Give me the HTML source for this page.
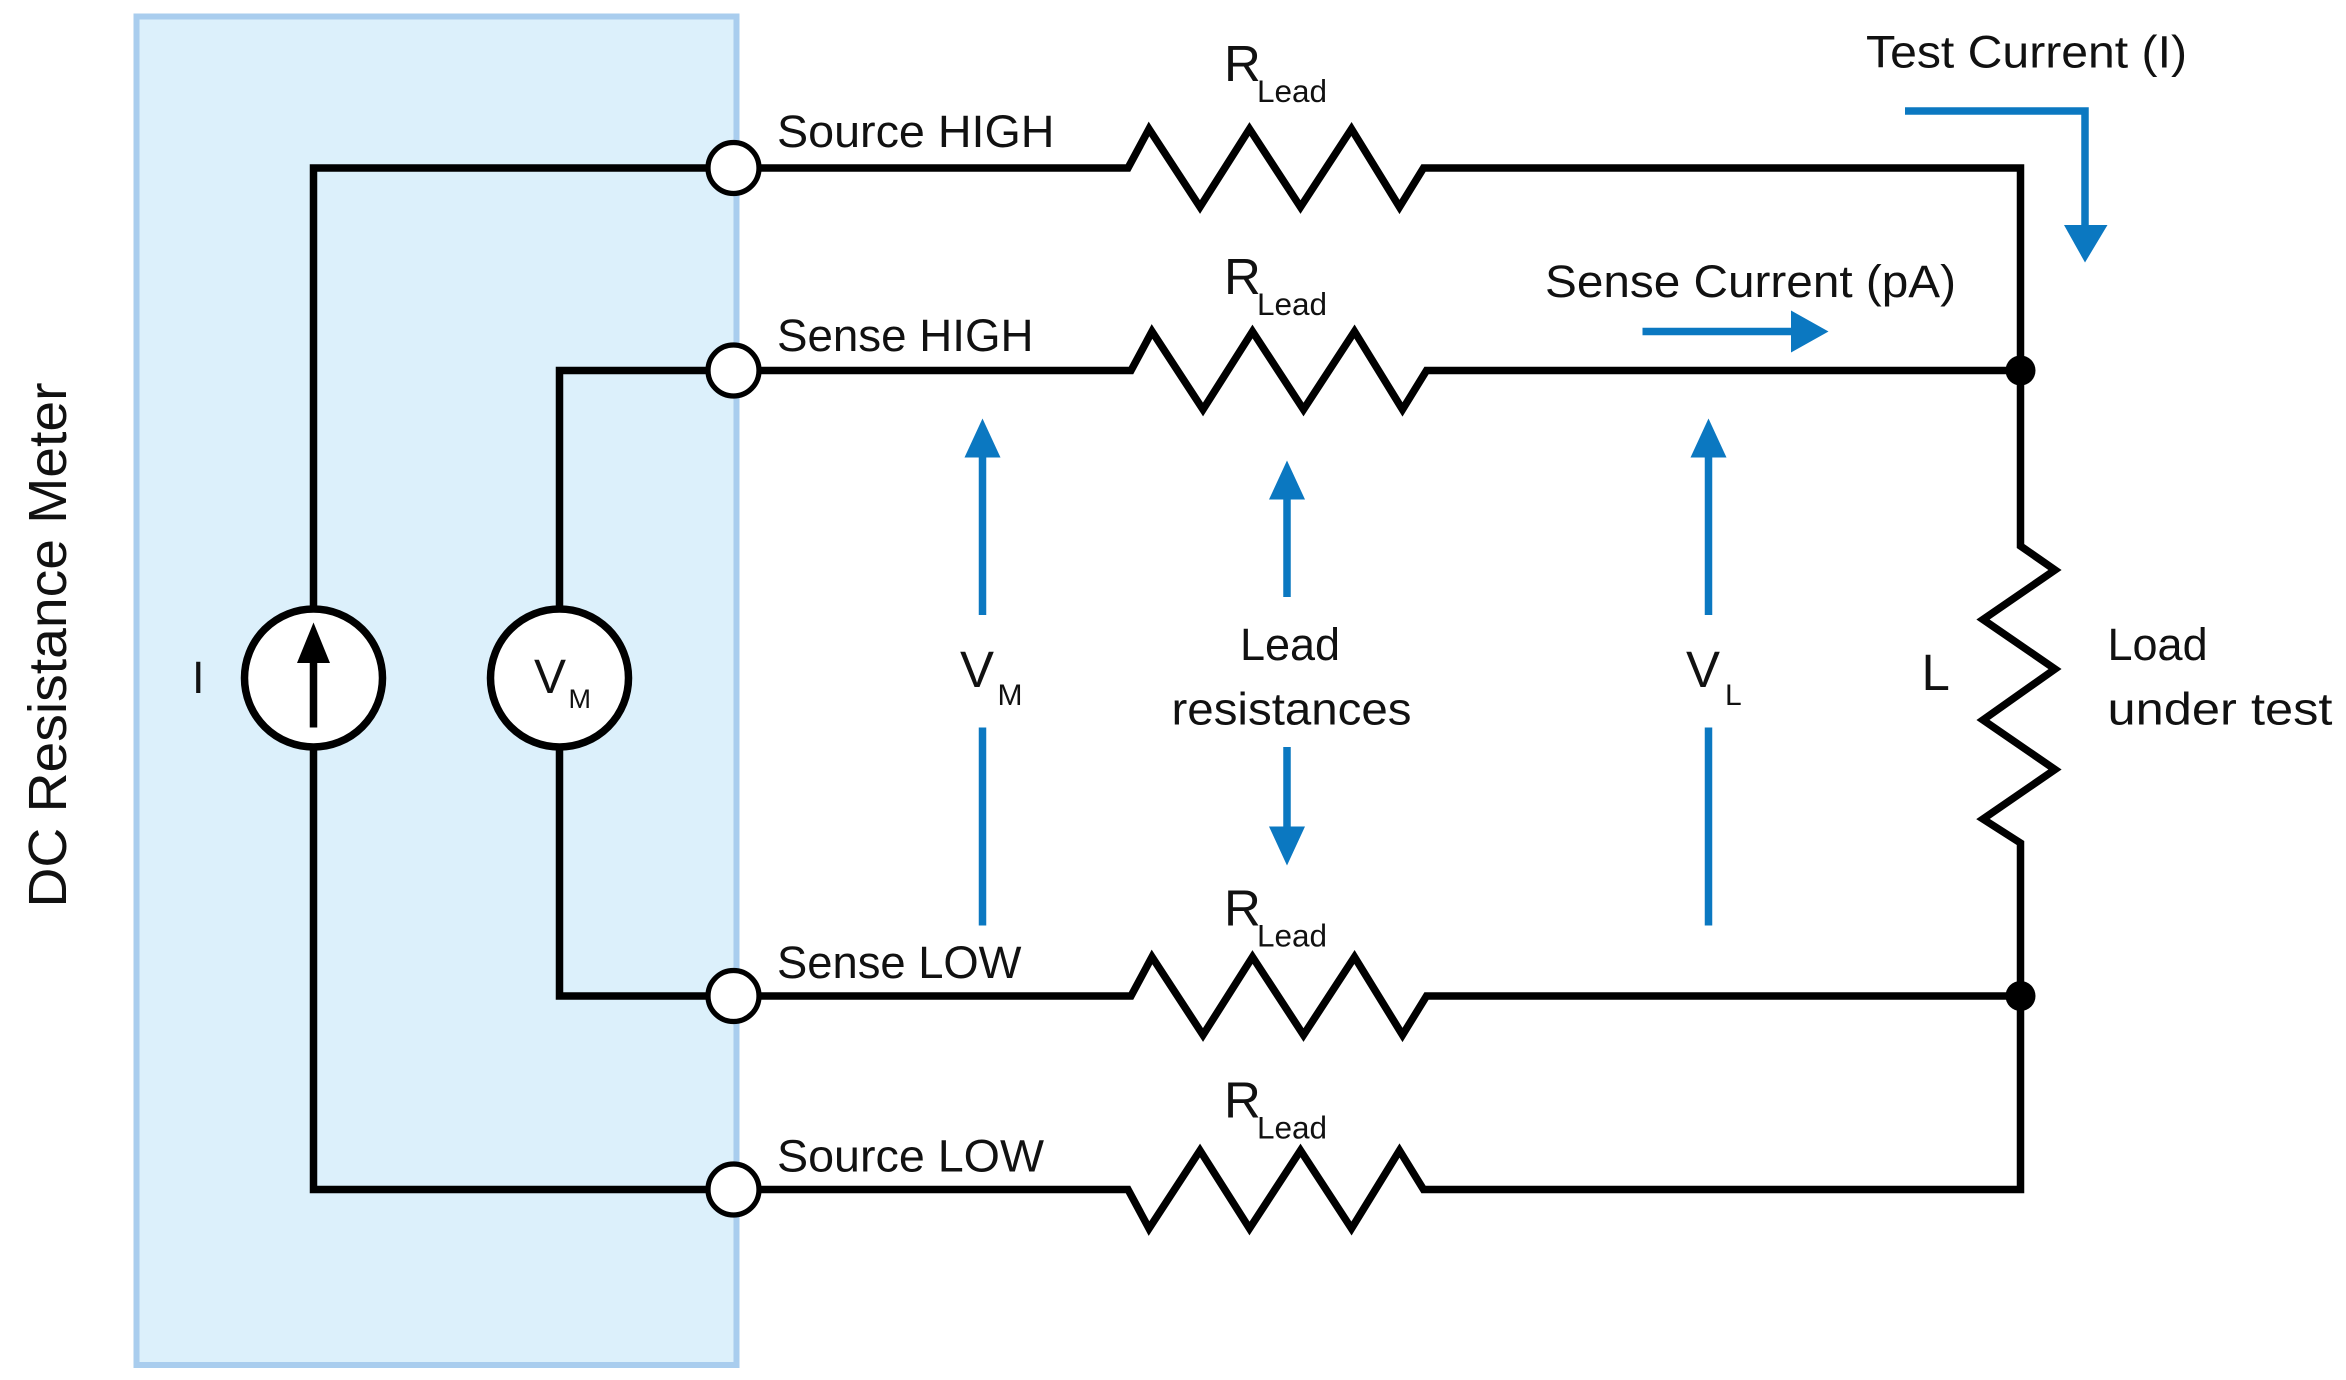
<!DOCTYPE html>
<html><head><style>
html,body{margin:0;padding:0;background:#fff;}
svg{display:block;}
text{font-family:"Liberation Sans",sans-serif;fill:#111;}
</style></head><body>
<svg width="2346" height="1380" viewBox="0 0 1564 920" xmlns="http://www.w3.org/2000/svg">
<rect x="91" y="11" width="400" height="899" fill="#dcf0fb" stroke="#a9cdee" stroke-width="4"/>
<g fill="none" stroke="#000" stroke-width="5" stroke-linejoin="miter">
<!-- left internal wires -->
<polyline points="472,112 209,112 209,406"/>
<polyline points="209,498 209,793 472,793"/>
<polyline points="472,247 373,247 373,406"/>
<polyline points="373,498 373,664 472,664"/>
<!-- right wires with resistors -->
<polyline points="506,112 752,112 766,86 800,138 833,86 867,138 901,86 933,138 949,112 1347,112 1347,364 1370,380 1322,413 1370,446 1322,480 1370,513 1322,546 1347,562 1347,793 949,793 933,767 901,819 867,767 833,819 800,767 766,819 752,793 506,793"/>
<polyline points="506,247 754,247 768,221 802,273 835,221 869,273 903,221 935,273 951,247 1347,247"/>
<polyline points="506,664 754,664 768,638 802,690 835,638 869,690 903,638 935,690 951,664 1347,664"/>
<circle cx="209" cy="452" r="46" fill="#fff"/>
<circle cx="373" cy="452" r="46" fill="#fff"/>
<line x1="209" y1="485" x2="209" y2="440"/>
</g>
<polygon points="209,415 198,442 220,442" fill="#000"/>
<g fill="#fff" stroke="#000" stroke-width="3.5">
<circle cx="489" cy="112" r="17"/>
<circle cx="489" cy="247" r="17"/>
<circle cx="489" cy="664" r="17"/>
<circle cx="489" cy="793" r="17"/>
</g>
<circle cx="1347" cy="247" r="10" fill="#000"/>
<circle cx="1347" cy="664" r="10" fill="#000"/>
<!-- blue arrows -->
<g stroke="#0b78c1" stroke-width="5" fill="none">
<polyline points="1270,74 1390,74 1390,152"/>
<line x1="1095" y1="221" x2="1196" y2="221"/>
<line x1="655" y1="410" x2="655" y2="302"/>
<line x1="655" y1="485" x2="655" y2="617"/>
<line x1="858" y1="398" x2="858" y2="330"/>
<line x1="858" y1="498" x2="858" y2="553"/>
<line x1="1139" y1="410" x2="1139" y2="302"/>
<line x1="1139" y1="485" x2="1139" y2="617"/>
</g>
<g fill="#0b78c1">
<polygon points="1376,150 1405,150 1390,175"/>
<polygon points="1194,207 1194,235 1219,221"/>
<polygon points="643,305 667,305 655,279"/>
<polygon points="846,333 870,333 858,307"/>
<polygon points="846,551 870,551 858,577"/>
<polygon points="1127,305 1151,305 1139,279"/>
</g>
<!-- labels -->
<g font-size="30">
<text x="518" y="98" textLength="185" lengthAdjust="spacingAndGlyphs">Source HIGH</text>
<text x="518" y="234" textLength="171" lengthAdjust="spacingAndGlyphs">Sense HIGH</text>
<text x="518" y="652" textLength="163" lengthAdjust="spacingAndGlyphs">Sense LOW</text>
<text x="518" y="781" textLength="178" lengthAdjust="spacingAndGlyphs">Source LOW</text>
<text x="1244" y="45" textLength="214" lengthAdjust="spacingAndGlyphs">Test Current (I)</text>
<text x="1030" y="198" textLength="274" lengthAdjust="spacingAndGlyphs">Sense Current (pA)</text>
<text x="860" y="440" text-anchor="middle">Lead</text>
<text x="861" y="483" text-anchor="middle" textLength="160" lengthAdjust="spacingAndGlyphs">resistances</text>
<text x="1405" y="440">Load</text>
<text x="1405" y="483" textLength="150" lengthAdjust="spacingAndGlyphs">under test</text>
<text x="128" y="462">I</text>
</g>
<g font-size="34">
<text x="816" y="54">R</text><text x="838" y="68" font-size="21">Lead</text>
<text x="816" y="196">R</text><text x="838" y="210" font-size="21">Lead</text>
<text x="816" y="617">R</text><text x="838" y="631" font-size="21">Lead</text>
<text x="816" y="745">R</text><text x="838" y="759" font-size="21">Lead</text>
<text x="640" y="458">V</text><text x="665" y="470" font-size="20">M</text>
<text x="1124" y="458">V</text><text x="1150" y="470" font-size="20">L</text>
<text x="1281" y="460">L</text>
<text x="356" y="462" font-size="32">V</text><text x="379" y="472" font-size="18">M</text>
</g>
<text transform="translate(44,605) rotate(-90)" font-size="36" textLength="350" lengthAdjust="spacingAndGlyphs">DC Resistance Meter</text>
</svg>
</body></html>
